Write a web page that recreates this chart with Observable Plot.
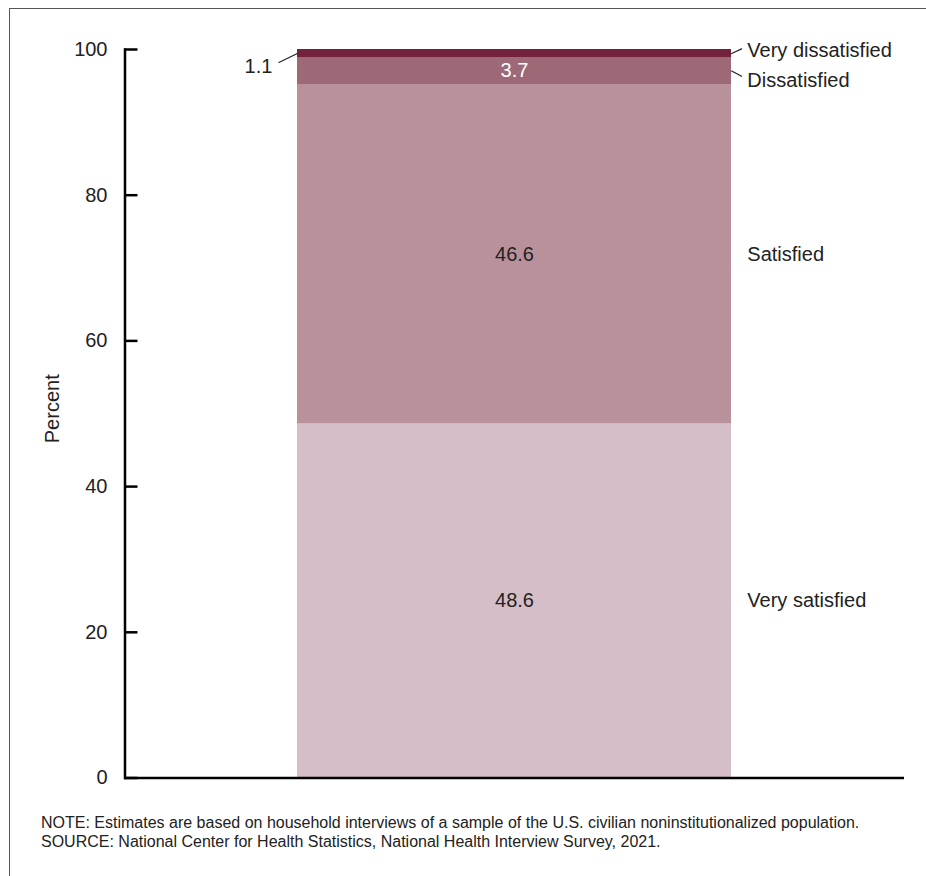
<!DOCTYPE html>
<html>
<head>
<meta charset="utf-8">
<script src="https://cdn.jsdelivr.net/npm/d3@7"></script>
<script src="https://cdn.jsdelivr.net/npm/@observablehq/plot@0.6"></script>
<style>
  html, body { margin: 0; padding: 0; background: #fff; }
  #wrap { position: relative; width: 926px; height: 876px; overflow: hidden; font-family: "Liberation Sans", Arial, sans-serif; }
  #border { position: absolute; left: 9px; top: 8px; width: 1000px; height: 1000px; border: 1px solid #555; }
  #chart { position: absolute; left: 0; top: 0; }
  #footer { position: absolute; left: 41px; top: 813px; font-size: 16px; line-height: 19px; color: #222; white-space: nowrap; }
</style>
</head>
<body>
<div id="wrap">
  <div id="border"></div>
  <div id="chart"></div>
  <div id="footer">
    <div>NOTE: Estimates are based on household interviews of a sample of the U.S. civilian noninstitutionalized population.</div>
    <div>SOURCE: National Center for Health Statistics, National Health Interview Survey, 2021.</div>
  </div>
</div>
<script>
const categories = ["Very satisfied", "Satisfied", "Dissatisfied", "Very dissatisfied"];
const values = [48.6, 46.6, 3.7, 1.1];
const colors = ["#d5bec7", "#b9919b", "#9d6976", "#74213b"];
const yTicks = [0, 20, 40, 60, 80, 100];
const group = "All";

const ends = d3.cumsum(values);
const table = categories.map((c, i) => ({
  category: c,
  value: values[i],
  group,
  y1: ends[i] - values[i],
  y2: ends[i],
  mid: ends[i] - values[i] / 2
}));

const W = 926, H = 800, ML = 124.5, MR = 22, MT = 49, MB = 22.5;
const pad = 0.2844;
const bw = (W - ML - MR) * (1 - pad) / (1 + pad);
const font = "Liberation Sans, Arial, sans-serif";
const ink = "#222";
const lineShape = { draw(context, l) { context.moveTo(0, 0); context.lineTo(0, -l); } };

const inside = table.slice(0, 3);
const vd = table[3], dis = table[2];

const chart = Plot.plot({
  width: W, height: H,
  marginLeft: ML, marginRight: MR, marginTop: MT, marginBottom: MB,
  style: { fontFamily: font, background: "transparent", overflow: "visible" },
  x: { type: "band", domain: [group], padding: pad, axis: null },
  y: { domain: [0, 100], axis: null },
  color: { domain: categories, range: colors },
  marks: [
    Plot.barY(table, { x: "group", y1: "y1", y2: "y2", fill: "category" }),
    // inside labels
    Plot.text(inside, { x: "group", y: "mid", text: d => d.value.toFixed(1), fill: d => d.category === "Dissatisfied" ? "#fff" : ink, fontSize: 20 }),
    // 1.1 label on left with leader
    Plot.text([vd], { x: "group", y: "mid", text: d => d.value.toFixed(1), textAnchor: "end", dx: -bw / 2 - 25, dy: 13, fill: ink, fontSize: 20 }),
    Plot.vector([vd], { x: "group", y: "mid", length: 20.5, rotate: 244, anchor: "start", dx: -bw / 2, shape: lineShape, stroke: ink, strokeWidth: 1.2 }),
    // right labels
    Plot.text(table.slice(0, 2), { x: "group", y: "mid", text: "category", textAnchor: "start", dx: bw / 2 + 15.7, fill: ink, fontSize: 20 }),
    Plot.text([dis], { x: "group", y: "mid", text: "category", textAnchor: "start", dx: bw / 2 + 15.7, dy: 9.5, fill: ink, fontSize: 20 }),
    Plot.vector([dis], { x: "group", y: "mid", length: 11.3, rotate: 118, anchor: "start", dx: bw / 2, shape: lineShape, stroke: ink, strokeWidth: 1.2 }),
    Plot.text([vd], { x: "group", y: "mid", text: "category", textAnchor: "start", dx: bw / 2 + 15.7, dy: -3, fill: ink, fontSize: 20 }),
    Plot.vector([vd], { x: "group", y: "mid", length: 11, rotate: 65, anchor: "start", dx: bw / 2, shape: lineShape, stroke: ink, strokeWidth: 1.2 }),
    // axes
    Plot.axisY({ ticks: yTicks, tickSize: 0, tickPadding: 17.5, fontSize: 20, fill: ink, label: null }),
    Plot.axisY({ ticks: yTicks, tickSize: -13, fill: "none", stroke: "#000", strokeWidth: 2.5, label: null }),
    Plot.text(["Percent"], { frameAnchor: "left", textAnchor: "middle", rotate: -90, dx: -72.5, dy: -5, fontSize: 20, fill: ink }),
    Plot.frame({ anchor: "left", stroke: "#000", strokeWidth: 2.5 }),
    Plot.ruleY([0], { stroke: "#000", strokeWidth: 2.5 })
  ]
});
document.getElementById("chart").appendChild(chart);
</script>
</body>
</html>
